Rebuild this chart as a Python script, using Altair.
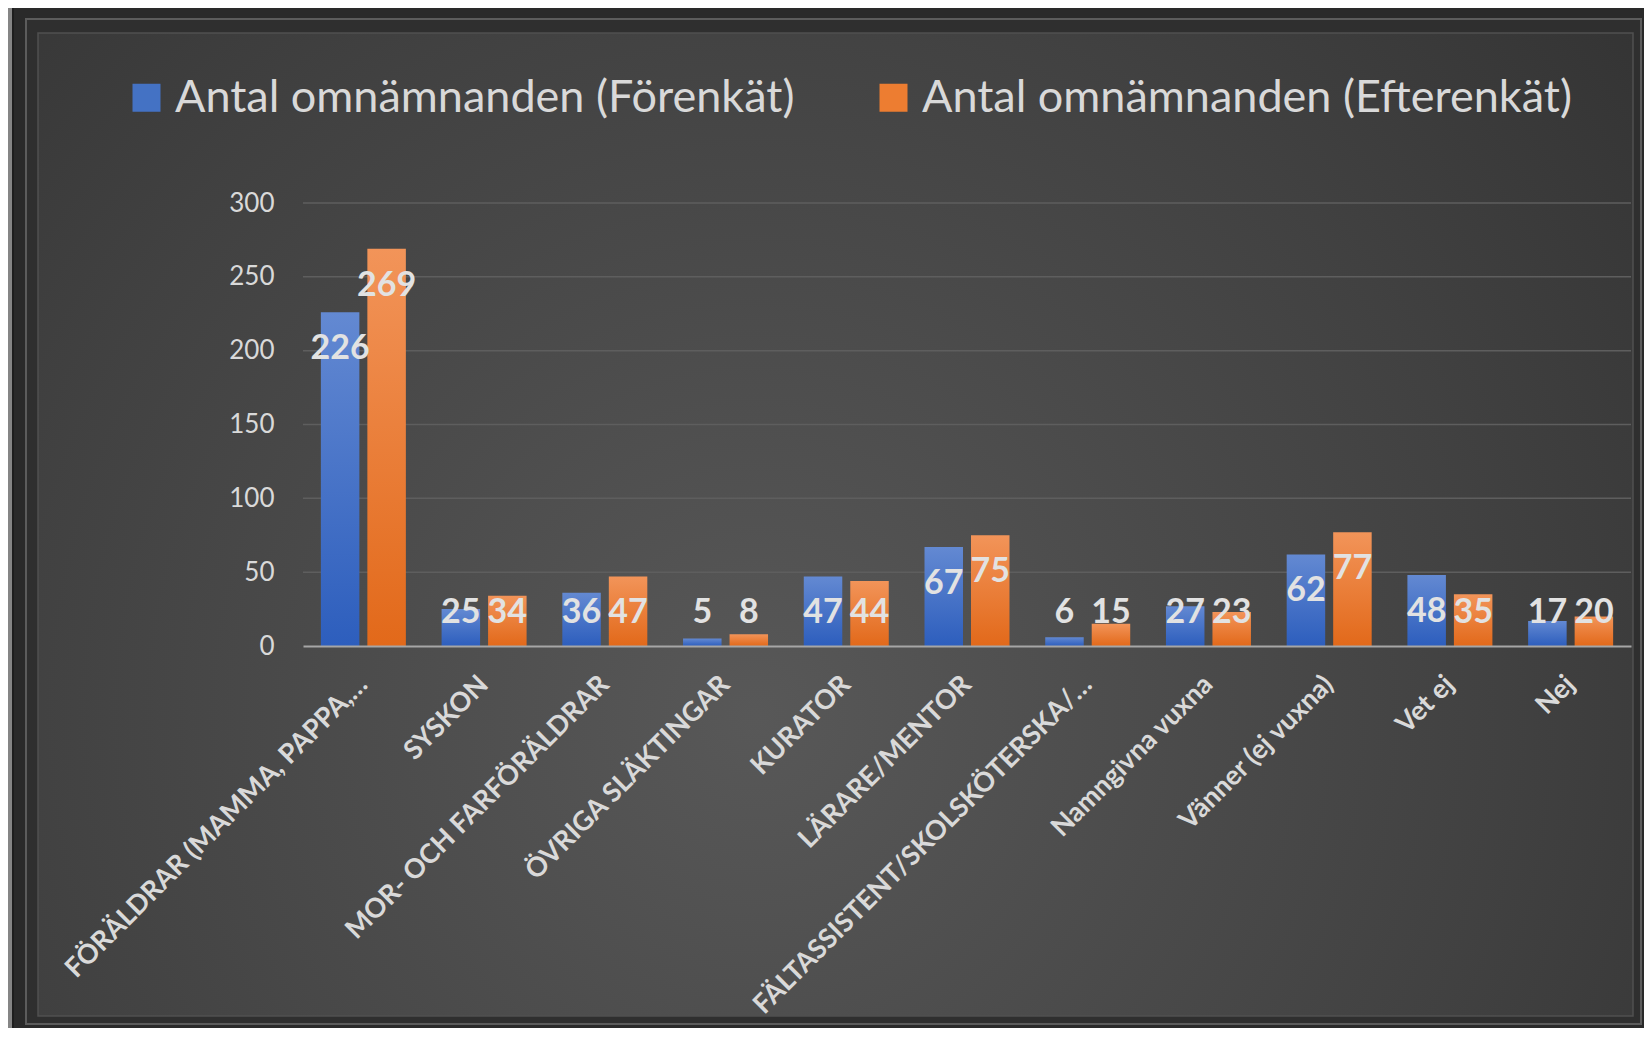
import altair as alt
import pandas as pd

categories = [
    "FÖRÄLDRAR (MAMMA, PAPPA,…",
    "SYSKON",
    "MOR- OCH FARFÖRÄLDRAR",
    "ÖVRIGA SLÄKTINGAR",
    "KURATOR",
    "LÄRARE/MENTOR",
    "FÄLTASSISTENT/SKOLSKÖTERSKA/…",
    "Namngivna vuxna",
    "Vänner (ej vuxna)",
    "Vet ej",
    "Nej",
]
series = ["Antal omnämnanden (Förenkät)", "Antal omnämnanden (Efterenkät)"]
forenkat = [226, 25, 36, 5, 47, 67, 6, 27, 62, 48, 17]
efterenkat = [269, 34, 47, 8, 44, 75, 15, 23, 77, 35, 20]
y_ticks = [0, 50, 100, 150, 200, 250, 300]

rows = []
for c, a, b in zip(categories, forenkat, efterenkat):
    rows.append({"kategori": c, "serie": series[0], "value": a})
    rows.append({"kategori": c, "serie": series[1], "value": b})
df = pd.DataFrame(rows)

W, H = 1328, 443
TXT = "#d9d9d9"
FONT = "Lato"

yscale = alt.Scale(domain=[0, 300], nice=False)
yaxis = alt.Axis(values=y_ticks, grid=False, domain=False, ticks=False, title=None,
                 labelFont=FONT, labelFontSize=26, labelColor=TXT, labelPadding=29, zindex=1)
xaxis = alt.Axis(title=None, labelAngle=-45, labelAlign="right", labelBaseline="middle",
                 labelFont=FONT, labelFontWeight="bold", labelFontSize=27, labelColor=TXT,
                 labelPadding=34, labelLimit=800, ticks=False, domainColor="#a6a6a6",
                 domainWidth=2, zindex=1)
xscale = alt.Scale(paddingInner=0.296, paddingOuter=0.148)
xenc = alt.X("kategori:N", sort=categories, scale=xscale, axis=xaxis)
xoff = alt.XOffset("serie:N", sort=series, scale=alt.Scale(paddingInner=0.172, paddingOuter=0))

one = pd.DataFrame({"k": [0]})

frame = alt.Chart(one).mark_rect(fill="#2a2a2a", stroke="#1e1e1e", strokeWidth=2).encode(
    x=alt.value(-290), x2=alt.value(1346), y=alt.value(-198), y2=alt.value(830))
bevel = alt.Chart(one).mark_rect(fill="#2f2f2f", stroke="#5c5c5c", strokeWidth=2).encode(
    x=alt.value(-277), x2=alt.value(1338), y=alt.value(-184), y2=alt.value(821))
panel_grad = alt.RadialGradient(
    gradient="radial",
    stops=[alt.GradientStop(offset=0, color="#585858"),
           alt.GradientStop(offset=0.55, color="#414141"),
           alt.GradientStop(offset=1, color="#2c2c2c")],
    x1=0.45, y1=0.62, r1=0, x2=0.45, y2=0.62, r2=0.85)
panel = alt.Chart(one).mark_rect(fill=panel_grad, stroke="#505050", strokeWidth=1.5).encode(
    x=alt.value(-265), x2=alt.value(1330), y=alt.value(-170), y2=alt.value(813))

grid = alt.Chart(pd.DataFrame({"value": y_ticks[1:]})).mark_rule(
    color="#5e5e5e", strokeWidth=1.5).encode(
    y=alt.Y("value:Q", scale=yscale, axis=yaxis))

blue_grad = alt.LinearGradient(gradient="linear",
    stops=[alt.GradientStop(offset=0, color="#6389d2"), alt.GradientStop(offset=1, color="#2d5ebd")],
    x1=0, y1=0, x2=0, y2=1)
orange_grad = alt.LinearGradient(gradient="linear",
    stops=[alt.GradientStop(offset=0, color="#f29459"), alt.GradientStop(offset=1, color="#e2691a")],
    x1=0, y1=0, x2=0, y2=1)

bars = alt.Chart(df).mark_bar().encode(
    x=xenc, xOffset=xoff,
    y=alt.Y("value:Q", scale=yscale, axis=yaxis),
    fill=alt.condition(alt.datum.serie == series[0], alt.value(blue_grad), alt.value(orange_grad)),
)

labels = alt.Chart(df).transform_calculate(
    pos="max(datum.value - 25, 22.3)"
).mark_text(font=FONT, fontWeight="bold", fontSize=34, color="#e2e2e2", baseline="middle").encode(
    x=xenc, xOffset=xoff,
    y=alt.Y("pos:Q", scale=yscale, axis=yaxis),
    text=alt.Text("value:Q"),
)

legend_layer = alt.Chart(df).transform_filter("false").mark_square(size=729, opacity=1).encode(
    color=alt.Color("serie:N", scale=alt.Scale(domain=series, range=["#4472c4", "#ed7d31"]),
                    legend=alt.Legend(orient="none", legendX=-179, legendY=-128, direction="horizontal",
                                      title=None, symbolType="square", symbolSize=784,
                                      symbolStrokeWidth=0, labelFont=FONT, labelFontSize=45,
                                      labelColor=TXT, labelOffset=6, columnPadding=76,
                                      padding=0, labelLimit=1000))
)

chart = alt.layer(frame, bevel, panel, grid, bars, labels, legend_layer).properties(
    width=W, height=H,
    autosize=alt.AutoSizeParams(type="none"),
    padding={"left": 295, "top": 195, "right": 13, "bottom": 382},
    background="#858585",
).configure_view(stroke=None)

chart.save("out.html", embed_options={"renderer": "svg", "actions": False})
